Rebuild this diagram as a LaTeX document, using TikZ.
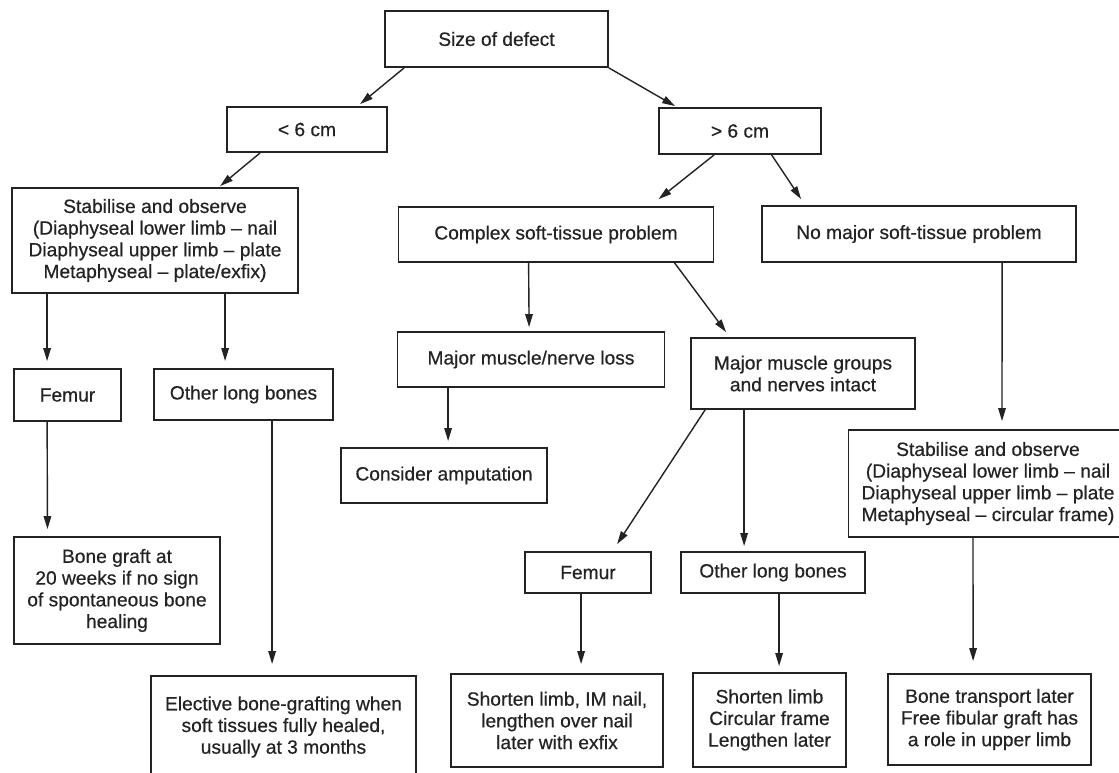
\documentclass[tikz,border=0pt]{standalone}
\usepackage{fontspec}
\setmainfont{Liberation Sans}[FakeBold=0.5]
\usetikzlibrary{arrows.meta,calc}
\definecolor{ink}{RGB}{35,35,35}
\tikzset{
  box/.style={draw=ink,line width=1.8pt,inner sep=0pt,align=center,text=ink,
    font=\fontsize{19.2}{21.7}\selectfont},
  arr/.style={draw=ink,line width=1.4pt,-{Triangle[length=13pt,width=7.5pt]}}
}
\newcommand{\bx}[6]{\node[box,minimum width=#4pt,minimum height=#5pt] (#1) at (#2,#3) {#6};}
\begin{document}
\begin{tikzpicture}[x=1pt,y=-1pt]
\useasboundingbox (0,0) rectangle (1119,773);
\clip (0,0) rectangle (1119,773);
\fill[white] (0,0) rectangle (1119,773);
\bx{sod}{496.5}{39}{223}{56}{Size of defect}
\bx{lt6}{307}{129.5}{160}{45}{\textless{} 6 cm}
\bx{gt6}{740}{131}{162}{46}{\textgreater{} 6 cm}
\bx{stabL}{155}{240.5}{286}{105}{Stabilise and observe\\(Diaphyseal lower limb – nail\\Diaphyseal upper limb – plate\\Metaphyseal – plate/exfix)}
\bx{complex}{556}{234.5}{315}{55}{Complex soft-tissue problem}
\bx{nomajor}{919}{234}{314}{56}{No major soft-tissue problem}
\bx{femL}{67.5}{395}{107}{52}{Femur}
\bx{olbL}{243.5}{394.5}{179}{51}{Other long bones}
\bx{mmnl}{531}{359.5}{267}{55}{Major muscle/nerve loss}
\bx{mmgi}{803}{373.5}{224}{71}{Major muscle groups\\and nerves intact}
\bx{consider}{444}{475.5}{206}{55}{Consider amputation}
\bx{bonegraft}{117}{590.5}{206}{107}{Bone graft at\\20 weeks if no sign\\of spontaneous bone\\healing}
\bx{elective}{283.5}{727}{265}{102}{Elective bone-grafting when\\soft tissues fully healed,\\usually at 3 months}
\bx{stabR}{988}{483.5}{279}{107}{Stabilise and observe\\(Diaphyseal lower limb – nail\\Diaphyseal upper limb – plate\\Metaphyseal – circular frame)}
\bx{fmR}{588}{572.5}{126}{41}{Femur}
\bx{olbR}{773}{572.5}{184}{41}{Other long bones}
\bx{shortIM}{557}{720.5}{212}{93}{Shorten limb, IM nail,\\lengthen over nail\\later with exfix}
\bx{shortL}{769.5}{720}{153}{94}{Shorten limb\\Circular frame\\Lengthen later}
\bx{bonetr}{989.5}{719.5}{203}{91}{Bone transport later\\Free fibular graft has\\a role in upper limb}
% connectors
\draw[arr] ($(sod.south west)+(20,0)$) -- ($(lt6.north west)+(134,-2)$);
\draw[arr] (sod.south east) -- ($(gt6.north west)+(17,-1)$);
\draw[arr] ($(lt6.south west)+(34,0)$) -- ($(stabL.north west)+(209,-1)$);
\draw[arr] ($(gt6.south west)+(56,0)$) -- ($(complex.north west)+(261,-7)$);
\draw[arr] ($(gt6.south west)+(113.5,0)$) -- ($(nomajor.north west)+(40,-6)$);
\draw[arr] ($(stabL.south west)+(36,0)$) -- ($(femL.north west)+(34,-7)$);
\draw[arr] ($(stabL.south west)+(214,0)$) -- ($(olbL.north west)+(72,-7)$);
\draw[arr] ($(complex.south west)+(131,0)$) -- ($(mmnl.north west)+(132.5,-4)$);
\draw[arr] ($(complex.south west)+(277,0)$) -- ($(mmgi.north west)+(36,-5)$);
\draw[arr] ($(nomajor.south west)+(241,0)$) -- ($(stabR.north west)+(154.4,-8)$);
\draw[arr] ($(mmnl.south west)+(51.5,0)$) -- ($(consider.north west)+(108,-6)$);
\draw[arr] ($(femL.south west)+(34,0)$) -- ($(bonegraft.north west)+(34.4,-7)$);
\draw[arr] ($(olbL.south west)+(119,0)$) -- ($(elective.north west)+(122,-11)$);
\draw[arr] ($(mmgi.south west)+(15,0)$) -- ($(fmR.north west)+(93,-7)$);
\draw[arr] ($(mmgi.south west)+(54,0)$) -- ($(olbR.north west)+(64,-5)$);
\draw[arr] ($(fmR.south west)+(57,0)$) -- ($(shortIM.north west)+(131,-9)$);
\draw[arr] ($(olbR.south west)+(99,0)$) -- ($(shortL.north west)+(87,-6)$);
\draw[arr] ($(stabR.south west)+(125.4,0)$) -- ($(bonetr.north west)+(86,-12)$);
\end{tikzpicture}
\end{document}
